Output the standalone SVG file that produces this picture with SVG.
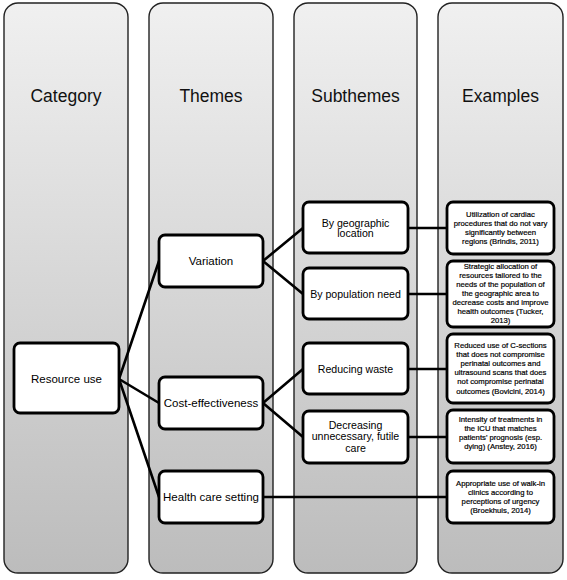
<svg xmlns="http://www.w3.org/2000/svg" width="567" height="580" viewBox="0 0 567 580">
<defs>
<linearGradient id="colg" x1="0" y1="0" x2="0" y2="1">
<stop offset="0" stop-color="#f0f0f0"/>
<stop offset="0.2" stop-color="#e6e6e6"/>
<stop offset="1" stop-color="#bcbcbc"/>
</linearGradient>
<style>
.col{fill:url(#colg);stroke:#222;stroke-width:1.4}
.hdr{font-family:"Liberation Sans",Arial,sans-serif;font-size:17.5px;fill:#111;text-anchor:middle}
.box{fill:#fff;stroke:#000;stroke-width:2.8}
.t1{font-family:"Liberation Sans",Arial,sans-serif;font-size:11.5px;fill:#000;text-anchor:middle}
.t2{font-family:"Liberation Sans",Arial,sans-serif;font-size:10.6px;fill:#000;text-anchor:middle}
.t3{font-family:"Liberation Sans",Arial,sans-serif;font-size:7.7px;fill:#000;stroke:#000;stroke-width:0.2;text-anchor:middle}
.con line{stroke:#000;stroke-width:2.6;stroke-linecap:round}
</style>
</defs>
<rect width="567" height="580" fill="#fff"/>
<g id="col-category"><rect class="col" x="4" y="3" width="124" height="570" rx="14"/><text class="hdr" x="66" y="102">Category</text></g>
<g id="col-themes"><rect class="col" x="149" y="3" width="124" height="570" rx="14"/><text class="hdr" x="211" y="102">Themes</text></g>
<g id="col-subthemes"><rect class="col" x="294" y="3" width="123" height="570" rx="14"/><text class="hdr" x="355.5" y="102">Subthemes</text></g>
<g id="col-examples"><rect class="col" x="438" y="3" width="125" height="570" rx="14"/><text class="hdr" x="500.5" y="102">Examples</text></g>

<g id="connectors" class="con">
<line x1="119" y1="379" x2="159" y2="261"/>
<line x1="119" y1="379" x2="159" y2="403"/>
<line x1="119" y1="379" x2="159" y2="497"/>
<line x1="263" y1="261" x2="303" y2="228"/>
<line x1="263" y1="261" x2="303" y2="294"/>
<line x1="263" y1="403" x2="303" y2="369"/>
<line x1="263" y1="403" x2="303" y2="437"/>
<line x1="408" y1="228" x2="447" y2="228"/>
<line x1="408" y1="294" x2="447" y2="294"/>
<line x1="408" y1="369" x2="447" y2="369"/>
<line x1="408" y1="437" x2="447" y2="437"/>
<line x1="263" y1="497" x2="447" y2="497"/>
</g>

<g id="n-resource-use"><rect class="box" x="14" y="343" width="105" height="70" rx="6"/><text class="t1" x="66.5" y="383">Resource use</text></g>
<g id="n-variation"><rect class="box" x="159" y="235" width="104" height="52" rx="6"/><text class="t1" x="211" y="265">Variation</text></g>
<g id="n-cost"><rect class="box" x="159" y="377" width="104" height="52" rx="6"/><text class="t1" x="211" y="407">Cost-effectiveness</text></g>
<g id="n-health"><rect class="box" x="159" y="471" width="104" height="52" rx="6"/><text class="t1" x="211" y="501">Health care setting</text></g>

<g id="n-geo"><rect class="box" x="303" y="202" width="105" height="51" rx="6"/><text class="t2" x="355.5" y="226.5">By geographic</text><text class="t2" x="355.5" y="237">location</text></g>
<g id="n-pop"><rect class="box" x="303" y="268" width="105" height="51" rx="6"/><text class="t2" x="355.5" y="297.5">By population need</text></g>
<g id="n-waste"><rect class="box" x="303" y="343" width="105" height="51" rx="6"/><text class="t2" x="355.5" y="372.5">Reducing waste</text></g>
<g id="n-futile"><rect class="box" x="303" y="411" width="105" height="52" rx="6"/><text class="t2" x="355.5" y="428.5">Decreasing</text><text class="t2" x="355.5" y="440">unnecessary, futile</text><text class="t2" x="355.5" y="451.5">care</text></g>

<g id="e-cardiac"><rect class="box" x="447" y="202" width="107" height="52" rx="6"/>
<text class="t3" x="500.5" y="217">Utilization of cardiac</text>
<text class="t3" x="500.5" y="226">procedures that do not vary</text>
<text class="t3" x="500.5" y="235">significantly between</text>
<text class="t3" x="500.5" y="244">regions (Brindis, 2011)</text></g>
<g id="e-strategic"><rect class="box" x="447" y="261" width="107" height="66" rx="6"/>
<text class="t3" x="500.5" y="269">Strategic allocation of</text>
<text class="t3" x="500.5" y="278">resources tailored to the</text>
<text class="t3" x="500.5" y="287">needs of the population of</text>
<text class="t3" x="500.5" y="296">the geographic area to</text>
<text class="t3" x="500.5" y="305">decrease costs and improve</text>
<text class="t3" x="500.5" y="314">health outcomes (Tucker,</text>
<text class="t3" x="500.5" y="323">2013)</text></g>
<g id="e-csections"><rect class="box" x="447" y="334" width="107" height="69" rx="6"/>
<text class="t3" x="500.5" y="348">Reduced use of C-sections</text>
<text class="t3" x="500.5" y="357">that does not compromise</text>
<text class="t3" x="500.5" y="366">perinatal outcomes and</text>
<text class="t3" x="500.5" y="375">ultrasound scans that does</text>
<text class="t3" x="500.5" y="384">not compromise perinatal</text>
<text class="t3" x="500.5" y="393.5">outcomes (Bovicini, 2014)</text></g>
<g id="e-icu"><rect class="box" x="447" y="410" width="107" height="53" rx="6"/>
<text class="t3" x="500.5" y="422">Intensity of treatments in</text>
<text class="t3" x="500.5" y="431">the ICU that matches</text>
<text class="t3" x="500.5" y="440">patients' prognosis (esp.</text>
<text class="t3" x="500.5" y="449">dying) (Anstey, 2016)</text></g>
<g id="e-walkin"><rect class="box" x="447" y="471" width="107" height="52" rx="6"/>
<text class="t3" x="500.5" y="486">Appropriate use of walk-in</text>
<text class="t3" x="500.5" y="494.5">clinics according to</text>
<text class="t3" x="500.5" y="503.5">perceptions of urgency</text>
<text class="t3" x="500.5" y="513">(Broekhuis, 2014)</text></g>
</svg>
